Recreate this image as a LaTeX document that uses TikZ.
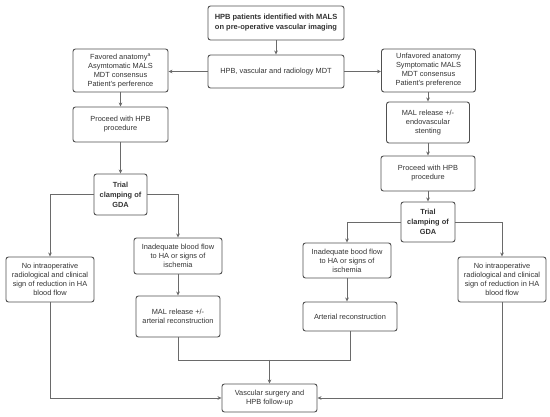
\documentclass[tikz,border=0pt]{standalone}
\usepackage{fontspec}
\setmainfont{Liberation Sans}
\usetikzlibrary{arrows.meta}
\definecolor{boxline}{HTML}{505050}
\definecolor{conn}{HTML}{6A6A6A}
\definecolor{txt}{HTML}{333333}
\tikzset{
  box/.style={draw=boxline, line width=0.9pt, rounded corners=2.5pt, fill=white,
    align=center, inner sep=1pt, text=txt,
    font=\fontsize{7.4}{9}\selectfont},
  bbox/.style={box, font=\fontsize{7.5}{10}\selectfont\bfseries},
  tbox/.style={box, font=\fontsize{7.4}{10}\selectfont\bfseries},
  conline/.style={draw=conn, line width=0.7pt},
  arr/.style={conline, -{Stealth[length=4pt,width=3.6pt]}}
}
\begin{document}
\begin{tikzpicture}[x=1pt,y=-1pt]
\useasboundingbox (0,0) rectangle (550,417);
\fill[white] (0,0) rectangle (550,417);

\node[bbox, minimum width=136pt, minimum height=34pt] (top) at (276,23)
  {HPB patients identified with MALS\\on pre-operative vascular imaging};
\node[box, minimum width=136pt, minimum height=33pt] (mdt) at (276,71.5)
  {HPB, vascular and radiology MDT};
\node[box, minimum width=95pt, minimum height=43pt] (fav) at (120.5,70.5)
  {Favored anatomy\textsuperscript{a}\\Asymtomatic MALS\\MDT consensus\\Patient's perference};
\node[box, minimum width=94pt, minimum height=43pt] (unfav) at (428.5,70.5)
  {Unfavored anatomy\\Symptomatic MALS\\MDT consensus\\Patient's preference};
\node[box, minimum width=95pt, minimum height=35pt] (procL) at (120.5,124.5)
  {Proceed with HPB\\procedure};
\node[box, minimum width=83pt, minimum height=41pt] (malR) at (428,122.5)
  {MAL release +/-\\endovascular\\stenting};
\node[box, minimum width=94pt, minimum height=35pt] (procR) at (428,173.5)
  {Proceed with HPB\\procedure};
\node[tbox, minimum width=54pt, minimum height=40pt] (trialR) at (428,222)
  {Trial\\clamping of\\GDA};
\node[tbox, minimum width=53pt, minimum height=41pt] (trialL) at (120.5,194.5)
  {Trial\\clamping of\\GDA};
\node[box, minimum width=88pt, minimum height=45pt] (noL) at (50,279.5)
  {No intraoperative\\radiological and clinical\\sign of reduction in HA\\blood flow};
\node[box, minimum width=88pt, minimum height=36pt] (inadL) at (178,256)
  {Inadequate blood flow\\to HA or signs of\\ischemia};
\node[box, minimum width=84pt, minimum height=41pt] (malL) at (178,316.5)
  {MAL release +/-\\arterial reconstruction};
\node[box, minimum width=88pt, minimum height=35pt] (inadR) at (347,260.5)
  {Inadequate bood flow\\to HA or signs of\\ischemia};
\node[box, minimum width=94pt, minimum height=29pt] (artR) at (350,316.5)
  {Arterial reconstruction};
\node[box, minimum width=88pt, minimum height=45pt] (noR) at (502,279.5)
  {No intraoperative\\radiological and clinical\\sign of reduction in HA\\blood flow};
\node[box, minimum width=95pt, minimum height=28pt] (vasc) at (269.5,398)
  {Vascular surgery and\\HPB follow-up};

\coordinate (j) at (269.5,360);

\draw[arr] (top) -- (mdt);
\draw[arr] (mdt.west) -- (fav.east |- mdt.west);
\draw[arr] (mdt.east) -- (unfav.west |- mdt.east);
\draw[arr] (fav) -- (procL);
\draw[arr] (procL) -- (trialL);
\draw[arr] (unfav.south -| malR.north) -- (malR.north);
\draw[arr] (malR) -- (procR);
\draw[arr] (procR) -- (trialR);
\draw[arr] (trialL.west) -| (noL.north);
\draw[arr] (trialL.east) -| (inadL.north);
\draw[arr] (inadL) -- (malL);
\draw[arr] (trialR.west) -| (inadR.north);
\draw[arr] (trialR.east) -| (noR.north);
\draw[arr] (inadR.south) -- (inadR.south |- artR.north);
\draw[conline] (malL.south) |- (j);
\draw[conline] (artR.south) |- (j);
\draw[arr] (j) -- (vasc.north);
\draw[arr] (noL.south) |- (vasc.west);
\draw[arr] (noR.south) |- (vasc.east);
\end{tikzpicture}
\end{document}
